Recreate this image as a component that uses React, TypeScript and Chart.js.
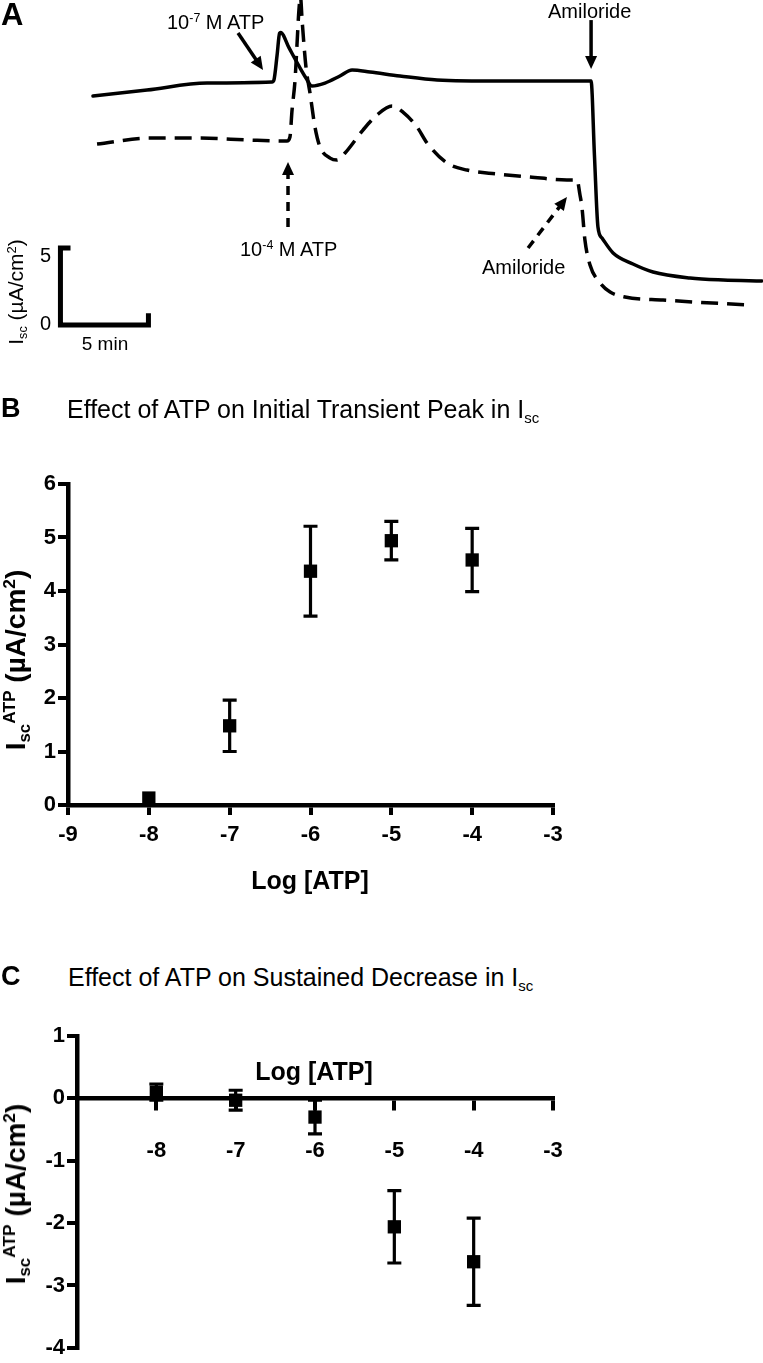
import React, { useEffect, useRef } from "react";
import { Chart, registerables } from "chart.js";

Chart.register(...registerables);

const FONT = '"Liberation Sans", Arial, Helvetica, sans-serif';

// ---------- Panel A: Isc traces (time in min, Isc in µA/cm², arbitrary offsets) ----------
const traceATP7Time = [0, 3.07, 6.48, 10.17, 10.28, 10.46, 10.6, 10.66, 11.14, 11.7, 12.1, 12.44, 13.18, 14.03, 14.72, 15.74, 17.44, 19.55, 23.13, 28.3, 28.49, 28.69, 28.92, 29.55, 30.68, 31.82, 33.92, 35.8, 38.0];
const traceATP7Isc = [14.87, 15.26, 15.71, 15.78, 15.91, 17.53, 18.95, 19.0, 17.99, 16.82, 16.04, 15.52, 15.71, 16.17, 16.56, 16.43, 16.17, 15.91, 15.84, 15.84, 11.04, 6.36, 5.65, 4.68, 3.96, 3.44, 3.05, 2.92, 2.86];

const traceATP4Time = [0.23, 3.24, 6.08, 8.92, 11.02, 11.19, 11.31, 11.48, 11.59, 11.7, 11.79, 11.88, 12.1, 12.33, 12.61, 12.9, 13.47, 13.86, 14.32, 15.34, 16.14, 16.99, 17.61, 18.41, 18.98, 20.11, 21.25, 22.95, 24.83, 26.93, 27.5, 27.67, 27.78, 27.95, 28.24, 28.81, 29.38, 30.23, 32.39, 37.16];
const traceATP4Isc = [11.75, 12.14, 12.14, 12.01, 11.95, 12.21, 13.96, 15.91, 18.18, 20.45, 21.3, 19.81, 16.75, 15.06, 12.86, 11.56, 10.84, 10.71, 11.17, 12.66, 13.64, 14.22, 13.83, 12.86, 11.82, 10.52, 10.06, 9.81, 9.61, 9.42, 9.42, 8.44, 7.66, 5.52, 3.9, 2.73, 2.14, 1.82, 1.62, 1.3];

// scale bar: 5 µA/cm² by 5 min
const scaleBarTime = [-1.42, -1.85, -1.85, 3.15, 3.15];
const scaleBarIsc = [5, 5, 0, 0, 0.6];

// arrows (tail -> head) in trace units
const arrowTailTime = [8.24, 11.08, 28.3, 24.72];
const arrowTailIsc = [18.96, 6.36, 19.8, 5.0];
const arrowHeadTime = [9.66, 11.08, 28.3, 26.93];
const arrowHeadIsc = [16.56, 10.58, 16.62, 8.31];
const arrowDashed = [false, true, false, true];

// ---------- Panels B & C ----------
const logATP = [-8, -7, -6, -5, -4];
const peakMean = [0.13, 1.48, 4.37, 4.94, 4.58];
const peakSem = [0, 0.48, 0.84, 0.36, 0.59];
const sustainedMean = [0.1, -0.03, -0.3, -2.06, -2.62];
const sustainedSem = [0.13, 0.16, 0.27, 0.58, 0.7];

const xTicksMin = -9;
const xTicksMax = -3;

// ---------- plugins ----------
const arrowPlugin = {
  id: "arrows",
  afterDatasetsDraw(chart: any) {
    const { ctx } = chart;
    const xs = chart.scales.x;
    const ys = chart.scales.y;
    ctx.save();
    ctx.strokeStyle = "#000";
    ctx.fillStyle = "#000";
    ctx.lineWidth = 3.5;
    for (let i = 0; i < arrowTailTime.length; i++) {
      const x1 = xs.getPixelForValue(arrowTailTime[i]);
      const y1 = ys.getPixelForValue(arrowTailIsc[i]);
      const x2 = xs.getPixelForValue(arrowHeadTime[i]);
      const y2 = ys.getPixelForValue(arrowHeadIsc[i]);
      const ang = Math.atan2(y2 - y1, x2 - x1);
      const head = 13;
      const half = 6;
      const c = Math.cos(ang);
      const s = Math.sin(ang);
      const bx = x2 - head * c;
      const by = y2 - head * s;
      ctx.setLineDash(arrowDashed[i] ? [9, 7] : []);
      ctx.beginPath();
      ctx.moveTo(x1, y1);
      ctx.lineTo(bx + c, by + s);
      ctx.stroke();
      ctx.setLineDash([]);
      ctx.beginPath();
      ctx.moveTo(x2, y2);
      ctx.lineTo(bx + half * s, by - half * c);
      ctx.lineTo(bx - half * s, by + half * c);
      ctx.closePath();
      ctx.fill();
    }
    ctx.restore();
  },
};

function errorBarPlugin(sems: number[]) {
  return {
    id: "errorBars",
    beforeDatasetsDraw(chart: any) {
      const { ctx } = chart;
      const ys = chart.scales.y;
      const meta = chart.getDatasetMeta(0);
      const data = chart.data.datasets[0].data;
      ctx.save();
      ctx.strokeStyle = "#000";
      ctx.lineWidth = 3.2;
      meta.data.forEach((pt: any, i: number) => {
        const e = sems[i];
        if (!e) return;
        const v = data[i].y;
        const px = pt.x;
        const yT = ys.getPixelForValue(v + e);
        const yB = ys.getPixelForValue(v - e);
        ctx.beginPath();
        ctx.moveTo(px, yT);
        ctx.lineTo(px, yB);
        ctx.moveTo(px - 7, yT);
        ctx.lineTo(px + 7, yT);
        ctx.moveTo(px - 7, yB);
        ctx.lineTo(px + 7, yB);
        ctx.stroke();
      });
      ctx.restore();
    },
  };
}

// ---------- configs ----------
function makeTraceConfig(): any {
  const line = {
    showLine: true,
    borderColor: "#000",
    backgroundColor: "#000",
    borderWidth: 3.5,
    pointRadius: 0,
    fill: false,
    cubicInterpolationMode: "monotone",
  };
  return {
    type: "scatter",
    data: {
      datasets: [
        {
          ...line,
          label: "10-7 M ATP",
          data: traceATP7Time.map((t, i) => ({ x: t, y: traceATP7Isc[i] })),
          borderJoinStyle: "round",
          borderCapStyle: "round",
        },
        {
          ...line,
          label: "10-4 M ATP",
          data: traceATP4Time.map((t, i) => ({ x: t, y: traceATP4Isc[i] })),
          borderDash: [17, 9],
          borderCapStyle: "butt",
        },
        {
          ...line,
          label: "scale",
          data: scaleBarTime.map((t, i) => ({ x: t, y: scaleBarIsc[i] })),
          borderWidth: 5,
          cubicInterpolationMode: "default",
          tension: 0,
          borderJoinStyle: "miter",
          borderCapStyle: "square",
        },
      ],
    },
    options: {
      animation: false,
      responsive: false,
      events: [],
      layout: { padding: 0 },
      plugins: { legend: { display: false }, tooltip: { enabled: false } },
      scales: {
        x: { type: "linear", display: false, min: -5.284, max: 38.068 },
        y: { type: "linear", display: false, min: -2.273, max: 21.104 },
      },
    },
    plugins: [arrowPlugin],
  };
}

const tickFont = { family: FONT, size: 22, weight: "bold" };

function axisCommon(tickLen: number) {
  return {
    grid: {
      display: true,
      drawOnChartArea: false,
      drawTicks: true,
      tickLength: tickLen,
      lineWidth: 4,
      color: "#000",
    },
    border: { display: true, width: 4.5, color: "#000" },
  };
}

function makeDoseConfig(means: number[], sems: number[], o: any): any {
  return {
    type: "scatter",
    data: {
      datasets: [
        {
          label: "mean",
          data: logATP.map((x, i) => ({ x, y: means[i] })),
          pointStyle: "rect",
          pointRadius: 9.4,
          pointHoverRadius: 9.4,
          backgroundColor: "#000",
          borderColor: "#000",
          borderWidth: 0,
          clip: false,
        },
      ],
    },
    options: {
      animation: false,
      responsive: false,
      events: [],
      layout: { padding: o.padding },
      plugins: { legend: { display: false }, tooltip: { enabled: false } },
      scales: {
        x: {
          type: "linear",
          min: xTicksMin,
          max: xTicksMax,
          position: o.xPosition,
          afterFit: (s: any) => {
            s.height = o.xHeight;
          },
          ticks: {
            stepSize: 1,
            autoSkip: false,
            maxRotation: 0,
            font: tickFont,
            color: "#000",
            padding: o.xPad,
            callback: (v: number) => (o.hideFirstX && v === xTicksMin ? "" : String(v)),
          },
          ...axisCommon(10),
        },
        y: {
          type: "linear",
          min: o.yMin,
          max: o.yMax,
          afterFit: (s: any) => {
            s.width = o.yWidth;
          },
          ticks: {
            stepSize: 1,
            autoSkip: false,
            font: tickFont,
            color: "#000",
            padding: 2,
            callback: (v: number) => String(v),
          },
          ...axisCommon(10),
        },
      },
    },
    plugins: [errorBarPlugin(sems)],
  };
}

const makePeakConfig = () =>
  makeDoseConfig(peakMean, peakSem, {
    padding: { left: 0, right: 210, top: 24, bottom: 0 },
    xPosition: "bottom",
    xHeight: 85,
    xPad: 7,
    yWidth: 68,
    yMin: 0,
    yMax: 6,
    hideFirstX: false,
  });

const makeSustainedConfig = () =>
  makeDoseConfig(sustainedMean, sustainedSem, {
    padding: { left: 0, right: 210, top: 36, bottom: 15 },
    xPosition: { y: 0 },
    xHeight: 0,
    xPad: 29,
    yWidth: 77,
    yMin: -4,
    yMax: 1,
    hideFirstX: true,
  });

// ---------- components ----------
function ChartCanvas({ left, top, width, height, make }: any) {
  const ref = useRef<HTMLCanvasElement>(null);
  useEffect(() => {
    const chart = new Chart(ref.current as HTMLCanvasElement, make());
    return () => chart.destroy();
  }, [make]);
  return (
    <canvas
      ref={ref}
      width={width}
      height={height}
      style={{ position: "absolute", left, top, width, height }}
    />
  );
}

function Sub({ children }: any) {
  return <span style={{ fontSize: "0.6em", position: "relative", top: "0.3em" }}>{children}</span>;
}
function Sup({ children }: any) {
  return <span style={{ fontSize: "0.62em", position: "relative", top: "-0.55em" }}>{children}</span>;
}

function Txt({ x, capTop, size, bold, anchor, children }: any) {
  const tf = anchor === "center" ? "translateX(-50%)" : anchor === "right" ? "translateX(-100%)" : undefined;
  return (
    <div
      style={{
        position: "absolute",
        left: x,
        top: capTop - 0.12 * size,
        fontSize: size,
        lineHeight: `${size}px`,
        fontWeight: bold ? 700 : 400,
        whiteSpace: "nowrap",
        transform: tf,
      }}
    >
      {children}
    </div>
  );
}

function VTxt({ cx, cy, size, bold, children }: any) {
  return (
    <div
      style={{
        position: "absolute",
        left: cx,
        top: cy,
        fontSize: size,
        lineHeight: `${size}px`,
        fontWeight: bold ? 700 : 400,
        whiteSpace: "nowrap",
        transform: "translate(-50%, -50%) rotate(-90deg)",
      }}
    >
      {children}
    </div>
  );
}

export default function App() {
  return (
    <div
      style={{
        position: "relative",
        width: 763,
        height: 1363,
        overflow: "hidden",
        background: "#fff",
        color: "#000",
        fontFamily: FONT,
      }}
    >
      <style>{"html,body{margin:0;padding:0;background:#fff;}"}</style>

      {/* Panel A */}
      <ChartCanvas left={0} top={0} width={763} height={360} make={makeTraceConfig} />
      <Txt x={1} capTop={3} size={31} bold>A</Txt>
      <Txt x={167} capTop={14} size={20}>
        10<Sup>-7</Sup> M ATP
      </Txt>
      <Txt x={240} capTop={241} size={20}>
        10<Sup>-4</Sup> M ATP
      </Txt>
      <Txt x={548} capTop={3} size={20}>Amiloride</Txt>
      <Txt x={482} capTop={259} size={20}>Amiloride</Txt>
      <Txt x={51} capTop={247} size={20} anchor="right">5</Txt>
      <Txt x={51} capTop={315} size={20} anchor="right">0</Txt>
      <Txt x={105} capTop={336} size={19} anchor="center">5 min</Txt>
      <VTxt cx={17} cy={292} size={21}>
        I<Sub>sc</Sub> (µA/cm<Sup>2</Sup>)
      </VTxt>

      {/* Panel B */}
      <ChartCanvas left={0} top={460} width={763} height={430} make={makePeakConfig} />
      <Txt x={1} capTop={398} size={27} bold>B</Txt>
      <Txt x={67} capTop={400} size={25}>
        Effect of ATP on Initial Transient Peak in I<Sub>sc</Sub>
      </Txt>
      <Txt x={310} capTop={871} size={25} bold anchor="center">Log [ATP]</Txt>
      <VTxt cx={18} cy={660} size={28} bold>
        I<Sub>sc</Sub><Sup>ATP</Sup> (µA/cm<Sup>2</Sup>)
      </VTxt>

      {/* Panel C */}
      <ChartCanvas left={0} top={1000} width={763} height={363} make={makeSustainedConfig} />
      <Txt x={1} capTop={966} size={27} bold>C</Txt>
      <Txt x={68} capTop={968} size={25}>
        Effect of ATP on Sustained Decrease in I<Sub>sc</Sub>
      </Txt>
      <Txt x={314} capTop={1062} size={25} bold anchor="center">Log [ATP]</Txt>
      <VTxt cx={18} cy={1194} size={28} bold>
        I<Sub>sc</Sub><Sup>ATP</Sup> (µA/cm<Sup>2</Sup>)
      </VTxt>
    </div>
  );
}
